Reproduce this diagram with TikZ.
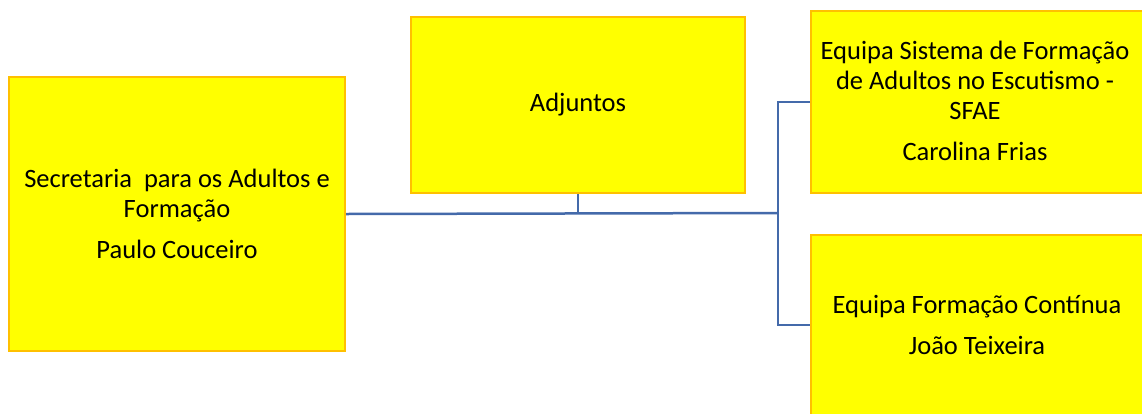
\documentclass[tikz,border=0pt]{standalone}
\usepackage{fontspec}
\setmainfont{Carlito}
\definecolor{boxfill}{RGB}{255,255,0}
\definecolor{boxline}{RGB}{255,192,0}
\definecolor{connc}{RGB}{68,106,170}
\begin{document}
\begin{tikzpicture}[x=1pt,y=-1pt,
  txt/.style={align=center, inner sep=0pt, font=\fontsize{26.5}{30}\selectfont},
  box/.style={txt, draw=boxline, fill=boxfill, line width=2pt, anchor=north west},
  conn/.style={draw=connc, line width=2.5pt}]
\useasboundingbox (0,0) rectangle (1142,413);
\node[box, minimum width=336pt, minimum height=274pt] (sec) at (8,76)
  {Secretaria\ \ para os Adultos e\\Formação\\[11pt]Paulo Couceiro};
\node[box, minimum width=334pt, minimum height=176pt] (adj) at (410,16)
  {Adjuntos};
\node[box, minimum width=350pt, minimum height=182pt] (sfae) at (810,10)
  {};
\node[box, minimum width=350pt, minimum height=190pt] (efc) at (810,234)
  {};
\node[txt] (sfaet) at (975,101)
  {Equipa Sistema de Formação\\de Adultos no Escutismo -\\SFAE\\[11pt]Carolina Frias};
\node[txt] (efct) at (977,325)
  {Equipa Formação Contínua\\[11pt]João Teixeira};
\coordinate (j) at (778,213);
\draw[conn] (sec.east) -- (j);
\draw[conn] (adj.south) -- (adj.south |- j);
\draw[conn] (sfae.west) -| (j) |- (efc.west |- efct);
\end{tikzpicture}
\end{document}
